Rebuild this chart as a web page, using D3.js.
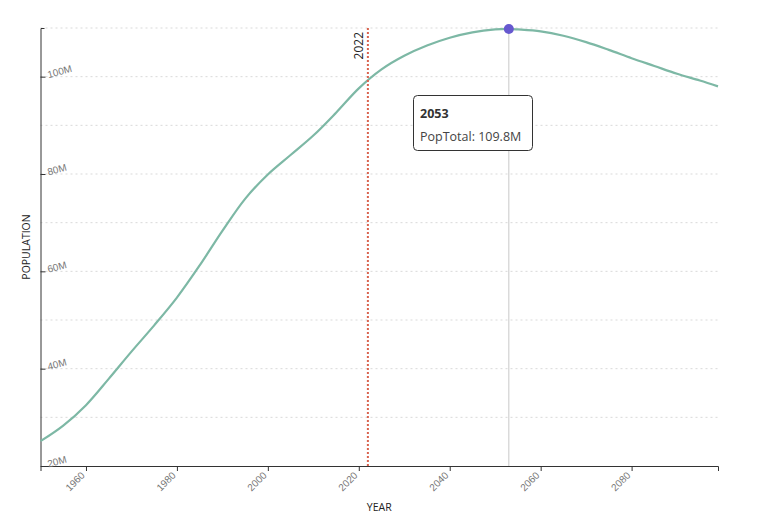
<!DOCTYPE html>
<html>
<head>
<meta charset="utf-8">
<script src="https://cdn.jsdelivr.net/npm/d3@7"></script>
<style>
  html, body { margin: 0; padding: 0; background: #fff; }
  svg { display: block; font-family: "Open Sans", "Noto Sans", sans-serif; }
</style>
</head>
<body>
<svg id="chart" width="769" height="523"></svg>
<script>
const years = [1950,1955,1960,1965,1970,1975,1980,1985,1990,1995,2000,2005,2010,2015,2020,2025,2030,2035,2040,2045,2050,2053,2055,2060,2065,2070,2075,2080,2085,2090,2095,2099];
const popTotal = [25.1,28.3,32.5,37.9,43.5,48.9,54.6,61.2,68.3,74.9,79.9,83.9,87.9,92.6,97.6,101.5,104.3,106.4,108.0,109.1,109.7,109.8,109.7,109.3,108.4,107.1,105.5,103.8,102.2,100.6,99.2,98.0];
const yTicks = [20,40,60,80,100];
const gridValues = [30,40,50,60,70,80,90,100,110];
const xTicks = [1960,1980,2000,2020,2040,2060,2080];
const markerYear = 2022;
const hoverYear = 2053;

const data = years.map((y, i) => ({ year: y, pop: popTotal[i] }));

const svg = d3.select("#chart");
const margin = { left: 40.5, right: 51, top: 28, bottom: 57 };
const W = 769, H = 523;

const x = d3.scaleLinear().domain([1950, 2099]).range([margin.left, W - margin.right]);
const y = d3.scaleLinear().domain([20, 110]).range([H - margin.bottom, margin.top]);

// grid
svg.append("g").selectAll("line").data(gridValues).join("line")
  .attr("x1", x(1950)).attr("x2", x(2099))
  .attr("y1", d => y(d)).attr("y2", d => y(d))
  .attr("stroke", "#d9d9d9").attr("stroke-width", 1)
  .attr("stroke-dasharray", "2,3");

// x axis
const gx = svg.append("g").attr("transform", `translate(0,${y(20)})`)
  .call(d3.axisBottom(x).tickValues(xTicks).tickFormat(d3.format("d")).tickSize(5).tickSizeOuter(5));
gx.select(".domain").attr("stroke", "#333");
gx.selectAll(".tick line").attr("stroke", "#333");
gx.selectAll(".tick text")
  .attr("fill", "#777").attr("font-size", 10)
  .attr("text-anchor", "end")
  .attr("dy", 0).attr("y", 0)
  .attr("transform", "translate(-1,10) rotate(-45)");

// y axis
const gy = svg.append("g").attr("transform", `translate(${x(1950)},0)`)
  .call(d3.axisLeft(y).tickValues(yTicks).tickSize(-5).tickSizeOuter(-4).tickFormat(d => d + "M"));
gy.select(".domain").attr("stroke", "#333");
gy.selectAll(".tick line").attr("stroke", "#333");
gy.selectAll(".tick text")
  .attr("fill", "#777").attr("font-size", 10)
  .attr("text-anchor", "start")
  .attr("x", 0).attr("dy", 0)
  .attr("transform", "translate(8,1) rotate(-15)");

// axis titles
svg.append("text").attr("x", (x(1950) + x(2099)) / 2).attr("y", 511)
  .attr("text-anchor", "middle").attr("font-size", 10.5).attr("fill", "#222").text("YEAR");
svg.append("text").attr("transform", `translate(30,${(y(20) + y(110)) / 2}) rotate(-90)`)
  .attr("text-anchor", "middle").attr("font-size", 10.5).attr("fill", "#222").text("POPULATION");

// hover vertical line
const hp = data.find(d => d.year === hoverYear);
svg.append("line").attr("x1", x(hoverYear)).attr("x2", x(hoverYear))
  .attr("y1", y(hp.pop)).attr("y2", y(20))
  .attr("stroke", "#c8c8c8").attr("stroke-width", 1);

// line
const line = d3.line().x(d => x(d.year)).y(d => y(d.pop)).curve(d3.curveCatmullRom.alpha(0.5));
svg.append("path").datum(data).attr("d", line)
  .attr("fill", "none").attr("stroke", "#7db8a5").attr("stroke-width", 2.2);

// 2022 marker
svg.append("line").attr("x1", x(markerYear)).attr("x2", x(markerYear))
  .attr("y1", y(110)).attr("y2", y(20))
  .attr("stroke", "#d9634f").attr("stroke-width", 2).attr("stroke-dasharray", "2,2");
svg.append("text").attr("transform", `translate(${x(markerYear) - 5},${y(110) + 4}) rotate(-90)`)
  .attr("text-anchor", "end").attr("font-size", 12).attr("fill", "#222").text(String(markerYear));

// dot
svg.append("circle").attr("cx", x(hoverYear)).attr("cy", y(hp.pop)).attr("r", 5)
  .attr("fill", "#6658cf");

// tooltip
const tip = svg.append("g").attr("transform", "translate(413,95)");
tip.append("rect").attr("x", 0.5).attr("y", 0.5).attr("width", 119).attr("height", 55)
  .attr("rx", 4).attr("fill", "#fff").attr("stroke", "#333").attr("stroke-width", 1);
tip.append("text").attr("x", 7).attr("y", 23).attr("font-size", 12.5).attr("font-weight", "bold")
  .attr("fill", "#333").text(String(hoverYear));
tip.append("text").attr("x", 7).attr("y", 46).attr("font-size", 12.5)
  .attr("fill", "#444").text("PopTotal: " + hp.pop.toFixed(1) + "M");
</script>
</body>
</html>
